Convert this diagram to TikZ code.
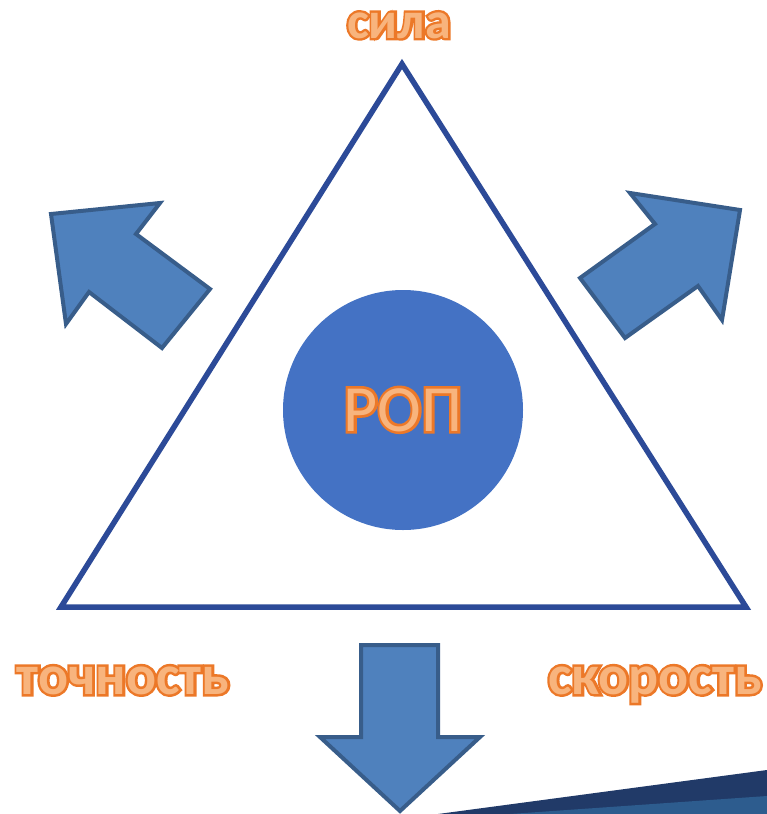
\documentclass[tikz,border=0pt]{standalone}
\usepackage{fontspec}
\setmainfont{Carlito}
\newfontfamily\lblfont{Carlito}[BoldFont={Carlito Bold}]
\newfontfamily\lblout{Carlito Bold}[FakeBold=9]
\newfontfamily\ropfont{Carlito}
\newfontfamily\ropout{Carlito}[FakeBold=8]
\definecolor{triblue}{RGB}{44,74,152}
\definecolor{circblue}{RGB}{68,114,196}
\definecolor{arrfill}{RGB}{79,129,189}
\definecolor{arrline}{RGB}{56,93,138}
\definecolor{orout}{RGB}{236,120,40}
\definecolor{orin}{RGB}{248,180,125}
\definecolor{wedgedark}{RGB}{33,58,104}
\definecolor{wedgemid}{RGB}{45,92,142}
\tikzset{
  bigarrow/.style={fill=arrfill, draw=arrline, line width=4pt, line join=miter},
  lblo/.style={anchor=base, inner sep=0pt, text=orout, font=\lblout\fontsize{56}{60}\selectfont},
  lbli/.style={anchor=base, inner sep=0pt, text=orin, font=\lblfont\bfseries\fontsize{56}{60}\selectfont},
  smallo/.style={anchor=base, inner sep=0pt, text=orout, font=\lblout\fontsize{52}{56}\selectfont},
  smalli/.style={anchor=base, inner sep=0pt, text=orin, font=\lblfont\bfseries\fontsize{52}{56}\selectfont},
  ropo/.style={anchor=base, inner sep=0pt, text=orout, font=\ropout\fontsize{66}{70}\selectfont},
  ropi/.style={anchor=base, inner sep=0pt, text=orin, font=\ropfont\fontsize{66}{70}\selectfont},
}
\begin{document}
\begin{tikzpicture}[x=1pt,y=-1pt]
\useasboundingbox (0,0) rectangle (767,814);
\fill[white] (0,0) rectangle (767,814);
% bottom-right wedge
\fill[wedgedark] (438,814) -- (767,770) -- (767,814) -- cycle;
\fill[wedgemid] (510,814) -- (767,796) -- (767,814) -- cycle;
% triangle
\coordinate (apex) at (402,64);
\coordinate (bl) at (61,607);
\coordinate (br) at (746,607);
\draw[triblue, line width=5.5pt, line join=miter] (apex) -- (br) -- (bl) -- cycle;
% circle
\node[circle, fill=circblue, minimum size=240pt, inner sep=0pt] (rop) at (403,410) {};
\node[ropo] (ropA) at (403,431) {РОП};
\node[ropi] (ropB) at (403,431) {РОП};
% arrows
\draw[bigarrow] (51,214) -- (160,203) -- (136,234) -- (210,289) -- (162,348) -- (89,292) -- (66,324) -- cycle;
\draw[bigarrow] (630,193) -- (740,210) -- (722,320) -- (698,286) -- (625,338) -- (580,278) -- (655,224) -- cycle;
\draw[bigarrow] (361,645) -- (438,645) -- (438,737) -- (480,737) -- (400,811) -- (320,737) -- (361,737) -- cycle;
% labels
\node[smallo] (silaA) at (399,38) {сила};
\node[smalli] (silaB) at (399,38) {сила};
\node[lblo] (tochA) at (123,694) {точность};
\node[lbli] (tochB) at (123,694) {точность};
\node[lblo] (skorA) at (655,694) {скорость};
\node[lbli] (skorB) at (655,694) {скорость};
\end{tikzpicture}
\end{document}
